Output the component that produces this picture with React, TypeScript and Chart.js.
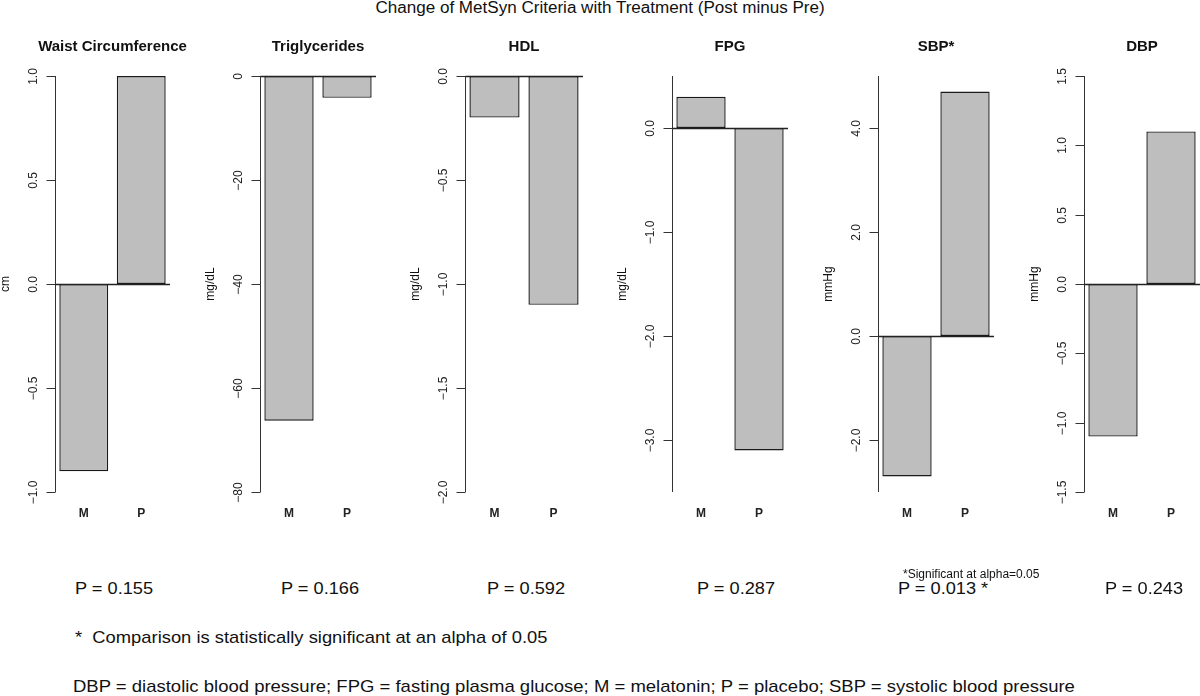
import React, { useEffect, useRef } from "react";
import { Chart, registerables } from "chart.js";

Chart.register(...registerables);

const categories = ["M", "P"];
const criteria = ["Waist Circumference", "Triglycerides", "HDL", "FPG", "SBP*", "DBP"];
const units = ["cm", "mg/dL", "mg/dL", "mg/dL", "mmHg", "mmHg"];
const melatonin = [-0.9, -66.3, -0.2, 0.3, -2.7, -1.1];
const placebo = [1.0, -4.2, -1.1, -3.1, 4.7, 1.1];
const yMins = [-1, -80, -2, -3.5, -3, -1.5];
const yMaxs = [1, 0, 0, 0.5, 5, 1.5];
const yTickValues = [
  [-1, -0.5, 0, 0.5, 1],
  [-80, -60, -40, -20, 0],
  [-2, -1.5, -1, -0.5, 0],
  [-3, -2, -1, 0],
  [-2, 0, 2, 4],
  [-1.5, -1, -0.5, 0, 0.5, 1, 1.5],
];
const yTickLabels = [
  ["\u22121.0", "\u22120.5", "0.0", "0.5", "1.0"],
  ["\u221280", "\u221260", "\u221240", "\u221220", "0"],
  ["\u22122.0", "\u22121.5", "\u22121.0", "\u22120.5", "0.0"],
  ["\u22123.0", "\u22122.0", "\u22121.0", "0.0"],
  ["\u22122.0", "0.0", "2.0", "4.0"],
  ["\u22121.5", "\u22121.0", "\u22120.5", "0.0", "0.5", "1.0", "1.5"],
];
const pValues = ["P = 0.155", "P = 0.166", "P = 0.592", "P = 0.287", "P = 0.013 *", "P = 0.243"];

// layout (positions only)
const axisX = [55, 260, 465, 672, 878, 1084];
const areaW = [115, 116, 118, 116, 116, 116];
const pLeft = [75, 281, 487, 697, 898, 1105];
const AREA_TOP = 76;
const AREA_BOTTOM = 492;
const CANVAS_H = 540;
const PAD_L = 60;
const PAD_R = 40;

const FONT = "'Liberation Sans', Arial, Helvetica, sans-serif";

function makeDecor(i: number) {
  return {
    id: "decor" + i,
    afterDatasetsDraw(chart: any) {
      const { ctx, chartArea: a, scales } = chart;
      const ys = scales.y;
      const xs = scales.x;
      ctx.save();
      // axis line
      ctx.strokeStyle = "#333";
      ctx.lineWidth = 1;
      const ax = Math.round(a.left) + 0.5;
      ctx.beginPath();
      ctx.moveTo(ax, a.top);
      ctx.lineTo(ax, a.bottom);
      ctx.stroke();
      // zero line
      const y0 = Math.round(ys.getPixelForValue(0)) + 0.5;
      ctx.strokeStyle = "#222";
      ctx.lineWidth = 1.4;
      ctx.beginPath();
      ctx.moveTo(ax, y0);
      ctx.lineTo(a.right, y0);
      ctx.stroke();
      // ticks + labels
      ctx.lineWidth = 1;
      ctx.strokeStyle = "#333";
      ctx.fillStyle = "#222";
      ctx.font = "12px " + FONT;
      ctx.textAlign = "center";
      ctx.textBaseline = "middle";
      yTickValues[i].forEach((v, k) => {
        const py = Math.round(ys.getPixelForValue(v)) + 0.5;
        ctx.beginPath();
        ctx.moveTo(ax - 9, py);
        ctx.lineTo(ax, py);
        ctx.stroke();
        ctx.save();
        ctx.translate(a.left - 21, py);
        ctx.rotate(-Math.PI / 2);
        ctx.fillText(yTickLabels[i][k], 0, 0);
        ctx.restore();
      });
      // unit label
      ctx.save();
      ctx.translate(a.left - 49, (a.top + a.bottom) / 2);
      ctx.rotate(-Math.PI / 2);
      ctx.fillStyle = "#111";
      ctx.fillText(units[i], 0, 0);
      ctx.restore();
      // category labels
      ctx.font = "bold 12px " + FONT;
      ctx.fillStyle = "#222";
      categories.forEach((c, k) => {
        ctx.fillText(c, xs.getPixelForValue(k), 514);
      });
      // panel title
      ctx.font = "bold 15px " + FONT;
      ctx.fillStyle = "#111";
      ctx.fillText(criteria[i], (a.left + a.right) / 2, 47);
      ctx.restore();
    },
  };
}

function Panel({ i }: { i: number }) {
  const ref = useRef<HTMLCanvasElement>(null);
  const w = PAD_L + areaW[i] + PAD_R;
  useEffect(() => {
    if (!ref.current) return;
    const chart = new Chart(ref.current, {
      type: "bar",
      data: {
        labels: categories,
        datasets: [
          {
            data: [melatonin[i], placebo[i]],
            backgroundColor: "#bebebe",
            borderColor: "#1a1a1a",
            borderWidth: 1.4,
            borderSkipped: false,
            barPercentage: 0.85,
            categoryPercentage: 1,
          },
        ],
      },
      options: {
        animation: false,
        responsive: false,
        devicePixelRatio: 1,
        layout: {
          padding: { left: PAD_L, right: PAD_R, top: AREA_TOP, bottom: CANVAS_H - AREA_BOTTOM },
        },
        plugins: { legend: { display: false }, tooltip: { enabled: false }, title: { display: false } },
        scales: {
          x: { type: "category", display: false, offset: true },
          y: { type: "linear", display: false, min: yMins[i], max: yMaxs[i] },
        },
      },
      plugins: [makeDecor(i)],
    });
    return () => chart.destroy();
  }, [i]);
  return (
    <canvas
      ref={ref}
      width={w}
      height={CANVAS_H}
      style={{ position: "absolute", left: axisX[i] - PAD_L, top: 0, width: w, height: CANVAS_H, display: "block" }}
    />
  );
}

const txt = (extra: React.CSSProperties): React.CSSProperties => ({
  position: "absolute",
  fontFamily: FONT,
  color: "#111",
  whiteSpace: "pre",
  lineHeight: 1,
  ...extra,
});

export default function App() {
  return (
    <div style={{ position: "fixed", left: 0, top: 0, width: 1200, height: 696, background: "#fff", overflow: "hidden" }}>
      <div style={txt({ left: 0, width: 1200, top: 0, fontSize: 16, textAlign: "center", transform: "scaleX(1.066)", transformOrigin: "599px 0" })}>
        Change of MetSyn Criteria with Treatment (Post minus Pre)
      </div>
      {criteria.map((_, i) => (
        <Panel key={i} i={i} />
      ))}
      {pValues.map((p, i) => (
        <div key={i} style={txt({ left: pLeft[i], top: 580, fontSize: 17, transform: "scaleX(1.07)", transformOrigin: "0 0" })}>
          {p}
        </div>
      ))}
      <div style={txt({ left: 903, top: 568, fontSize: 12 })}>*Significant at alpha=0.05</div>
      <div style={txt({ left: 75, top: 629, fontSize: 17, transform: "scaleX(1.08)", transformOrigin: "0 0" })}>
        {"*  Comparison is statistically significant at an alpha of 0.05"}
      </div>
      <div style={txt({ left: 73, top: 678, fontSize: 17, transform: "scaleX(1.088)", transformOrigin: "0 0" })}>
        DBP = diastolic blood pressure; FPG = fasting plasma glucose; M = melatonin; P = placebo; SBP = systolic blood pressure
      </div>
    </div>
  );
}
